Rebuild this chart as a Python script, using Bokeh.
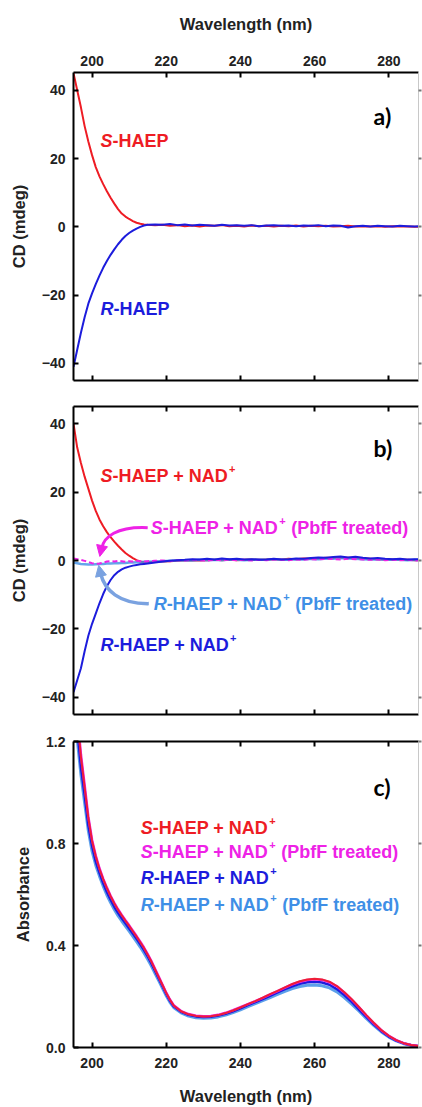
from bokeh.plotting import figure
from bokeh.models import (Range1d, LinearAxis, FixedTicker, Arrow, NormalHead,
                          CustomJSTickFormatter, PrintfTickFormatter)
from bokeh.layouts import column
from bokeh.core.properties import value
from bokeh.embed import file_html
from bokeh.resources import INLINE

# ---------------- data ----------------
wl_cd = [195, 196, 197, 198, 199, 200, 201, 202, 203, 204, 205, 206, 207, 208, 209, 210,
         211, 212, 213, 214, 215, 217, 219, 221, 223, 225, 227, 229, 231, 233, 235, 237,
         239, 241, 243, 245, 247, 249, 251, 253, 255, 257, 259, 261, 263, 265, 267, 269,
         271, 273, 275, 277, 279, 281, 283, 285, 287, 289]

cd_a_S = [45, 40, 35, 29.5, 25, 21, 17.5, 14.8, 12.5, 10.4, 8.5, 6.8, 5.2, 3.9, 3.0, 2.3,
          1.7, 1.2, 0.9, 0.7, 0.6,
          0.5, 0.6, 0.3, 0.5, 0.2, 0.4, 0.1, 0.4, 0.3, 0.5, 0.2, 0.3, 0.1, 0.4, 0.2, 0.3,
          0.1, 0.3, 0.2, 0.4, 0.1, 0.3, 0.2, 0.3, 0.1, 0.2, 0.3, 0.1, 0.2, 0.1, 0.2, 0.0,
          0.2, 0.1, 0.1, 0.0, 0.1]
cd_a_R = [-41, -36, -31, -26.5, -22.5, -19.5, -16.8, -14.3, -12.0, -10.0, -8.2, -6.6, -5.1,
          -3.8, -2.7, -1.8, -1.1, -0.5, 0.0, 0.4, 0.6,
          0.7, 0.6, 0.8, 0.5, 0.7, 0.4, 0.6, 0.5, 0.3, 0.6, 0.4, 0.5, 0.3, 0.5, 0.2, 0.4,
          0.5, 0.3, 0.4, 0.2, 0.4, 0.3, 0.5, 0.2, 0.4, 0.3, -0.2, 0.2, 0.3, 0.1, 0.3, 0.2,
          0.1, 0.3, 0.2, 0.1, 0.2]

cd_b_S = [40, 33, 28.5, 24.5, 21, 17.5, 14.5, 12, 10, 8.3, 6.8, 5.5, 4.3, 3.2, 2.2, 1.4,
          0.7, 0.1, -0.3, -0.5, -0.5,
          -0.4, -0.3, -0.2, -0.1, 0.0, 0.1, 0.0, 0.1, 0.2, 0.1, 0.2, 0.1, 0.2, 0.3, 0.2, 0.3,
          0.4, 0.3, 0.5, 0.4, 0.6, 0.5, 0.6, 0.8, 0.7, 0.9, 0.8, 0.7, 0.6, 0.5, 0.4, 0.3,
          0.3, 0.2, 0.2, 0.1, 0.1]
cd_b_R = [-38.5, -35, -31.5, -26.5, -22, -18.5, -15.5, -12.5, -9.8, -7.5, -5.7, -4.3, -3.3,
          -2.6, -2.1, -1.8, -1.5, -1.3, -1.1, -1.0, -0.9,
          -0.6, -0.3, -0.1, 0.1, 0.2, 0.4, 0.3, 0.5, 0.3, 0.6, 0.4, 0.5, 0.3, 0.4, 0.2, 0.3,
          0.5, 0.3, 0.4, 0.6, 0.5, 0.7, 0.9, 0.8, 1.0, 1.2, 0.9, 1.1, 0.8, 0.6, 0.7, 0.5,
          0.4, 0.5, 0.3, 0.4, 0.3]
cd_b_S_pbf = [0.6, 0.4, 0.2, -0.1, -0.4, -0.8, -1.0, -0.9, -0.6, -0.3, -0.2, -0.3, -0.1,
              -0.2, -0.4, -0.2, -0.3, -0.1, -0.2, -0.3, -0.2,
              -0.1, 0.0, -0.2, 0.1, 0.0, 0.2, 0.1, 0.0, 0.2, 0.1, 0.3, 0.1, 0.2, 0.0, 0.2, 0.1,
              0.3, 0.2, 0.1, 0.3, 0.2, 0.4, 0.3, 0.5, 0.4, 0.3, 0.5, 0.4, 0.3, 0.2, 0.3, 0.1,
              0.2, 0.1, 0.2, 0.0, 0.1]
cd_b_R_pbf = [-0.6, -0.8, -1.0, -1.1, -1.2, -1.2, -1.1, -1.0, -1.0, -0.9, -0.9, -0.8, -0.8,
              -0.7, -0.7, -0.6, -0.6, -0.5, -0.5, -0.4, -0.4,
              -0.3, -0.2, -0.1, 0.0, 0.1, 0.0, 0.2, 0.1, 0.2, 0.1, 0.3, 0.2, 0.1, 0.2, 0.3, 0.2,
              0.4, 0.3, 0.2, 0.4, 0.3, 0.5, 0.4, 0.6, 0.5, 0.7, 0.6, 0.5, 0.4, 0.3, 0.4, 0.2,
              0.3, 0.2, 0.1, 0.2, 0.1]

wl_abs = [195, 196, 197, 198, 199, 200, 201, 202, 203, 204, 205, 206, 207, 208, 209, 210,
          211, 212, 213, 214, 215, 216, 217, 218, 219, 220, 221, 222, 224, 226, 228, 230,
          232, 234, 236, 238, 240, 242, 244, 246, 248, 250, 252, 254, 256, 258, 260, 262,
          264, 266, 268, 270, 272, 274, 276, 278, 280, 282, 284, 286, 288, 289]
abs_S = [1.52, 1.30, 1.14, 1.02, 0.90, 0.81, 0.75, 0.70, 0.66, 0.625, 0.593, 0.565, 0.54,
         0.518, 0.497, 0.477, 0.456, 0.435, 0.413, 0.39, 0.364, 0.337, 0.306, 0.275, 0.245,
         0.214, 0.187, 0.165, 0.142, 0.13, 0.124, 0.122, 0.123, 0.127, 0.135, 0.145, 0.157,
         0.17, 0.182, 0.195, 0.209, 0.222, 0.236, 0.249, 0.26, 0.267, 0.27, 0.267, 0.258,
         0.241, 0.217, 0.189, 0.158, 0.126, 0.096, 0.068, 0.046, 0.029, 0.017, 0.01, 0.006,
         0.005]
abs_S_pbf = [1.53, 1.31, 1.15, 1.03, 0.905, 0.815, 0.753, 0.703, 0.662, 0.627, 0.595, 0.567,
             0.542, 0.52, 0.499, 0.479, 0.458, 0.437, 0.415, 0.392, 0.366, 0.339, 0.308,
             0.277, 0.246, 0.215, 0.188, 0.166, 0.143, 0.131, 0.125, 0.123, 0.124, 0.128,
             0.136, 0.146, 0.158, 0.17, 0.182, 0.195, 0.208, 0.221, 0.235, 0.248, 0.258,
             0.265, 0.268, 0.265, 0.256, 0.24, 0.216, 0.188, 0.157, 0.125, 0.095, 0.068,
             0.046, 0.029, 0.017, 0.01, 0.006, 0.005]
abs_R = [1.48, 1.25, 1.10, 0.99, 0.87, 0.79, 0.73, 0.685, 0.645, 0.61, 0.58, 0.552, 0.528,
         0.507, 0.487, 0.467, 0.447, 0.426, 0.405, 0.382, 0.357, 0.33, 0.30, 0.27, 0.24,
         0.21, 0.183, 0.162, 0.14, 0.128, 0.122, 0.12, 0.121, 0.125, 0.132, 0.142, 0.154,
         0.166, 0.178, 0.19, 0.203, 0.216, 0.229, 0.24, 0.25, 0.256, 0.258, 0.255, 0.246,
         0.229, 0.206, 0.179, 0.149, 0.119, 0.09, 0.064, 0.043, 0.027, 0.016, 0.009, 0.005,
         0.004]
abs_R_pbf = [1.44, 1.21, 1.07, 0.96, 0.85, 0.77, 0.715, 0.672, 0.633, 0.598, 0.568, 0.541,
             0.517, 0.496, 0.476, 0.456, 0.436, 0.415, 0.394, 0.371, 0.346, 0.319, 0.29,
             0.261, 0.232, 0.203, 0.177, 0.157, 0.136, 0.123, 0.117, 0.115, 0.116, 0.12,
             0.127, 0.137, 0.148, 0.16, 0.172, 0.184, 0.196, 0.208, 0.22, 0.231, 0.239,
             0.244, 0.245, 0.242, 0.234, 0.218, 0.196, 0.17, 0.142, 0.113, 0.086, 0.061,
             0.041, 0.026, 0.015, 0.009, 0.005, 0.004]

x_ticks = [200, 220, 240, 260, 280]
cd_ticks = [-40, -20, 0, 20, 40]
abs_ticks = [0.0, 0.4, 0.8, 1.2]

RED = "#ee1c24"
MAG = "#ee22e6"
BLUE = "#1c1cdc"
LBLUE = "#3f8fe6"
ARROW_LB = "#7aa2e0"

FONT = "Liberation Sans"


def base_fig(h, top, bottom, y0, y1):
    p = figure(width=422, height=h, x_range=Range1d(195, 288), y_range=Range1d(y0, y1),
               output_backend="svg", toolbar_location=None,
               x_axis_location=None, y_axis_location=None,
               min_border_left=73, min_border_right=4,
               min_border_top=top, min_border_bottom=bottom)
    p.outline_line_color = None
    p.grid.visible = False
    p.background_fill_color = "white"
    p.border_fill_color = "white"
    return p


def style_axis(ax, labels=True):
    ax.axis_line_width = 2
    ax.axis_line_color = "black"
    ax.major_tick_in = 5
    ax.major_tick_out = 0
    ax.minor_tick_in = 0
    ax.minor_tick_out = 0
    ax.major_tick_line_width = 2
    ax.major_label_text_font = FONT
    ax.major_label_text_font_style = "bold"
    ax.major_label_text_font_size = "14px"
    ax.major_label_text_color = "#222222"
    ax.axis_label_text_font = FONT
    ax.axis_label_text_font_style = "bold"
    ax.axis_label_text_font_size = "16.5px"
    ax.axis_label_text_color = "#222222"
    if not labels:
        ax.formatter = CustomJSTickFormatter(code="return ''")
    return ax


def add_axes(p, yticks, ylabel, top_labels, bottom_labels, yfmt=None):
    left = style_axis(LinearAxis(ticker=FixedTicker(ticks=yticks), axis_label=ylabel))
    left.major_label_standoff = 8
    left.axis_label_standoff = 11
    if yfmt is not None:
        left.formatter = yfmt
    p.add_layout(left, "left")

    top = style_axis(LinearAxis(ticker=FixedTicker(ticks=x_ticks)), labels=top_labels)
    if top_labels:
        top.axis_label = "Wavelength (nm)"
        top.major_label_standoff = 7
        top.axis_label_standoff = 20
    p.add_layout(top, "above")

    bot = style_axis(LinearAxis(ticker=FixedTicker(ticks=x_ticks)), labels=bottom_labels)
    if bottom_labels:
        bot.axis_label = "Wavelength (nm)"
        bot.major_label_standoff = 10
        bot.axis_label_standoff = 16
    p.add_layout(bot, "below")

    right = LinearAxis(ticker=FixedTicker(ticks=yticks),
                       formatter=CustomJSTickFormatter(code="return ''"))
    right.axis_line_color = "#c8c8c8"
    right.axis_line_width = 1
    right.major_tick_in = 0
    right.major_tick_out = 3
    right.minor_tick_in = 0
    right.minor_tick_out = 0
    right.major_tick_line_color = "#777777"
    right.major_tick_line_width = 2
    p.add_layout(right, "right")


def label(p, x, y, first, rest, color, sup=False, tail=None):
    w_first = 12 if first == "S" else 13
    p.text(x=[x], y=[y], text=[first], text_color=color, text_font=value(FONT),
           text_font_style="bold italic", text_font_size="18px",
           text_baseline="middle", text_align="left")
    p.text(x=[x], y=[y], text=[rest], x_offset=w_first, text_color=color,
           text_font=value(FONT), text_font_style="bold", text_font_size="18px",
           text_baseline="middle", text_align="left")
    if sup:
        off = w_first + 116.5
        p.text(x=[x], y=[y], text=["+"], x_offset=off, y_offset=-7, text_color=color,
               text_font=value(FONT), text_font_style="bold", text_font_size="11px",
               text_baseline="middle", text_align="left")
        if tail:
            p.text(x=[x], y=[y], text=[tail], x_offset=off + 12, text_color=color,
                   text_font=value(FONT), text_font_style="bold", text_font_size="18px",
                   text_baseline="middle", text_align="left")


def panel_tag(p, x, y, t):
    p.text(x=[x], y=[y], text=[t], text_color="black", text_font=value("Lato"),
           text_font_style="bold", text_font_size="23px",
           text_baseline="middle", text_align="left")


# ---------------- panel a ----------------
pa = base_fig(393, 72, 13, -45, 45.2)
add_axes(pa, cd_ticks, "CD (mdeg)", True, False)
pa.line(wl_cd, cd_a_S, line_color=RED, line_width=2)
pa.line(wl_cd, cd_a_R, line_color=BLUE, line_width=2)
label(pa, 202.3, 25.0, "S", "-HAEP", RED)
label(pa, 202.3, -24.2, "R", "-HAEP", BLUE)
panel_tag(pa, 275.9, 32.5, "a)")

# ---------------- panel b ----------------
pb = base_fig(334, 13, 13, -45, 45)
add_axes(pb, cd_ticks, "CD (mdeg)", False, False)
pb.line(wl_cd, cd_b_S, line_color=RED, line_width=2)
pb.line(wl_cd, cd_b_R_pbf, line_color=LBLUE, line_width=2.5, line_alpha=0.8)
pb.line(wl_cd, cd_b_S_pbf, line_color=MAG, line_width=2, line_dash="5 3")
pb.line(wl_cd, cd_b_R, line_color=BLUE, line_width=2)
label(pb, 202.3, 24.8, "S", "-HAEP + NAD", RED, sup=True)
label(pb, 215.8, 9.5, "S", "-HAEP + NAD", MAG, sup=True, tail="(PbfF treated)")
label(pb, 216.6, -12.6, "R", "-HAEP + NAD", LBLUE, sup=True, tail="(PbfF treated)")
label(pb, 202.3, -24.8, "R", "-HAEP + NAD", BLUE, sup=True)
panel_tag(pb, 275.9, 33.0, "b)")
# arrows
pb.bezier(x0=[215.0], y0=[9.6], x1=[202.6], y1=[3.6], cx0=[206.5], cy0=[10.0],
          cx1=[203.2], cy1=[6.8], line_color=MAG, line_width=3)
pb.add_layout(Arrow(end=NormalHead(size=11, fill_color=MAG, line_color=MAG),
                    x_start=202.6, y_start=3.8, x_end=202.1, y_end=1.2,
                    line_color=MAG, line_width=3))
pb.bezier(x0=[215.3], y0=[-12.6], x1=[202.3], y1=[-3.8], cx0=[207.2], cy0=[-12.7],
          cx1=[203.4], cy1=[-8.6], line_color=ARROW_LB, line_width=3.5)
pb.add_layout(Arrow(end=NormalHead(size=11, fill_color=ARROW_LB, line_color=ARROW_LB),
                    x_start=202.3, y_start=-4.0, x_end=201.8, y_end=-1.4,
                    line_color=ARROW_LB, line_width=3.5))

# ---------------- panel c ----------------
pc = base_fig(380, 14, 59, 0, 1.2)
add_axes(pc, abs_ticks, "Absorbance", False, True, yfmt=PrintfTickFormatter(format="%.1f"))
pc.line(wl_abs, abs_R_pbf, line_color=LBLUE, line_width=3, line_alpha=0.85)
pc.line(wl_abs, abs_R, line_color=BLUE, line_width=2.5)
pc.line(wl_abs, abs_S_pbf, line_color=MAG, line_width=2.5)
pc.line(wl_abs, abs_S, line_color=RED, line_width=2, line_alpha=0.9)
label(pc, 213.1, 0.86, "S", "-HAEP + NAD", RED, sup=True)
label(pc, 213.1, 0.766, "S", "-HAEP + NAD", MAG, sup=True, tail="(PbfF treated)")
label(pc, 213.1, 0.665, "R", "-HAEP + NAD", BLUE, sup=True)
label(pc, 213.1, 0.559, "R", "-HAEP + NAD", LBLUE, sup=True, tail="(PbfF treated)")
panel_tag(pc, 275.9, 1.02, "c)")

layout = column(pa, pb, pc, spacing=0)
open("out.html", "w").write(file_html(layout, INLINE))
